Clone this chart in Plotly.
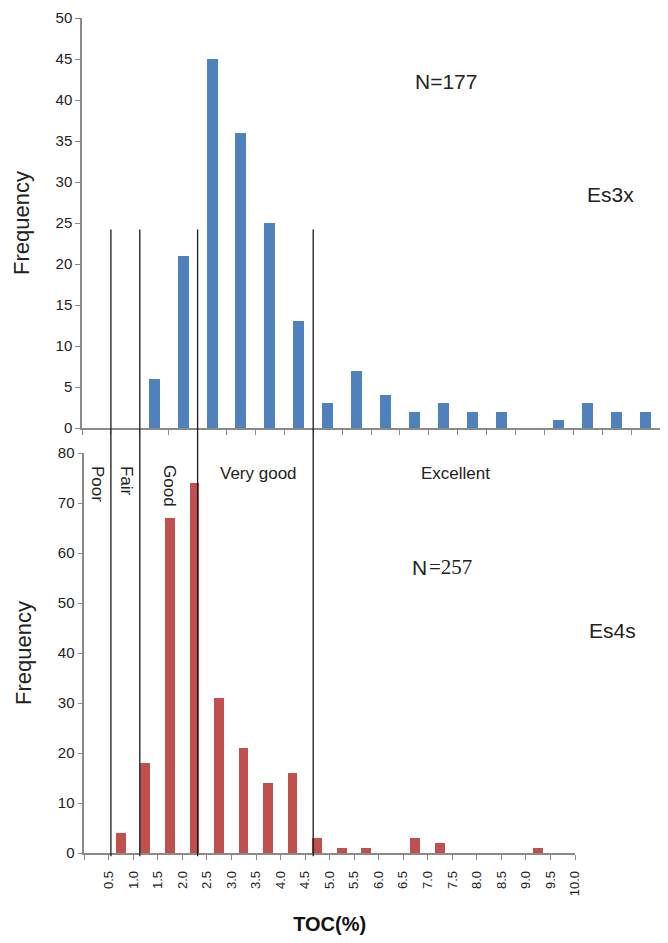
import plotly.graph_objects as go

# ---- data ----
bin_starts = [0.0, 0.5, 1.0, 1.5, 2.0, 2.5, 3.0, 3.5, 4.0, 4.5,
              5.0, 5.5, 6.0, 6.5, 7.0, 7.5, 8.0, 8.5, 9.0, 9.5]
es3x_freq = [0, 0, 6, 21, 45, 36, 25, 13, 3, 7, 4, 2, 3, 2, 2, 0, 1, 3, 2, 2]
es4s_freq = [0, 4, 18, 67, 74, 31, 21, 14, 16, 3, 1, 1, 0, 3, 2, 0, 0, 0, 1, 0]
tick_labels = ["0.5", "1.0", "1.5", "2.0", "2.5", "3.0", "3.5", "4.0", "4.5", "5.0",
               "5.5", "6.0", "6.5", "7.0", "7.5", "8.0", "8.5", "9.0", "9.5", "10.0"]
thresholds = [0.5, 1.0, 2.0, 4.0]
grade_labels = ["Poor", "Fair", "Good", "Very good", "Excellent"]

# ---- geometry (page body has an 8px margin) ----
W, H = 660, 927
ML, MR, MT, MB = 74, 8, 10, 82
PW, PH = W - ML - MR, H - MT - MB
top_dom = [(853 - 428) / PH, 1.0]
bot_dom = [0.0, 400 / PH]
bot_xdom = [0.004, 493 / PW]

FONT = "Liberation Sans, Arial, sans-serif"
SERIF = "Liberation Serif, Times New Roman, serif"
AXC = "#8a8a8a"
TXT = "#222222"

half = 0.25
fig = go.Figure()
fig.add_trace(go.Bar(x=[b + half for b in bin_starts], y=es3x_freq, width=0.19,
                     marker=dict(color="#4F81BD", line=dict(width=0)),
                     xaxis="x", yaxis="y", showlegend=False))
fig.add_trace(go.Bar(x=[b + half for b in bin_starts], y=es4s_freq, width=0.2,
                     marker=dict(color="#C0504D", line=dict(width=0)),
                     xaxis="x2", yaxis="y2", showlegend=False))

common_axis = dict(showline=True, linecolor=AXC, linewidth=1.5, ticks="outside",
                   ticklen=5, tickcolor=AXC, tickwidth=1.3, showgrid=False,
                   zeroline=False, fixedrange=True, automargin=False)

fig.update_layout(
    width=W, height=H,
    margin=dict(l=ML, r=MR, t=MT, b=MB),
    paper_bgcolor="white", plot_bgcolor="white",
    font=dict(family=FONT, color=TXT, size=15),
    bargap=0,
    xaxis=dict(domain=[0, 1], anchor="y", range=[0, 10],
               tickmode="linear", tick0=0, dtick=0.5, showticklabels=False,
               **common_axis),
    yaxis=dict(domain=top_dom, anchor="x", range=[0, 50], dtick=5,
               tickfont=dict(size=15, color=TXT),
               title=dict(text="Frequency", font=dict(size=22, color=TXT), standoff=20),
               **common_axis),
    xaxis2=dict(domain=bot_xdom, anchor="y2", range=[0, 10],
                tickmode="array",
                tickvals=[0.0] + [b + 0.5 for b in bin_starts],
                ticktext=[""] + tick_labels,
                tickangle=-90, tickfont=dict(size=13, color=TXT),
                ticklabelstandoff=6,
                title=dict(text="<b>TOC(%)</b>", font=dict(size=20, color="#111"), standoff=48),
                **common_axis),
    yaxis2=dict(domain=bot_dom, anchor="x2", range=[0, 80], dtick=10,
                tickfont=dict(size=15, color=TXT),
                title=dict(text="Frequency", font=dict(size=22, color=TXT), standoff=20),
                **common_axis),
)

# threshold lines spanning both panels
line_top = top_dom[0] + 24.2 / 50 * (top_dom[1] - top_dom[0])
for t in thresholds:
    fig.add_shape(type="line", xref="x", yref="paper", x0=t, x1=t,
                  y0=-0.004, y1=line_top, line=dict(color="#1a1a1a", width=1.3))

ann = []
ann.append(dict(text="N=177", xref="x", yref="y", x=6.30, y=42.2, font=dict(size=21)))
ann.append(dict(text="Es3x", xref="x", yref="y", x=9.15, y=28.5, font=dict(size=21)))
ann.append(dict(text=grade_labels[0], xref="x", yref="y2", x=0.277, y=73.8, textangle=90, font=dict(size=17)))
ann.append(dict(text=grade_labels[1], xref="x", yref="y2", x=0.779, y=74.4, textangle=90, font=dict(size=17)))
ann.append(dict(text=grade_labels[2], xref="x", yref="y2", x=1.522, y=73.4, textangle=90, font=dict(size=17)))
ann.append(dict(text=grade_labels[3], xref="x", yref="y2", x=3.045, y=76.0, font=dict(size=17)))
ann.append(dict(text=grade_labels[4], xref="x", yref="y2", x=6.47, y=76.0, font=dict(size=17)))
ann.append(dict(text="N", xref="x", yref="y2", x=5.985, y=57.2, xanchor="right",
                borderpad=0, font=dict(size=21)))
ann.append(dict(text="=257", xref="x", yref="y2", x=5.985, y=57.2, xanchor="left",
                borderpad=0, font=dict(size=21, family=SERIF)))
ann.append(dict(text="Es4s", xref="x", yref="y2", x=9.17, y=44.6, font=dict(size=21)))
for a in ann:
    a.setdefault("showarrow", False)
    a.setdefault("xanchor", "center")
    a.setdefault("yanchor", "middle")
    a["font"].setdefault("color", TXT)
    a["font"].setdefault("family", FONT)
fig.update_layout(annotations=ann)

fig.write_html("out.html")
